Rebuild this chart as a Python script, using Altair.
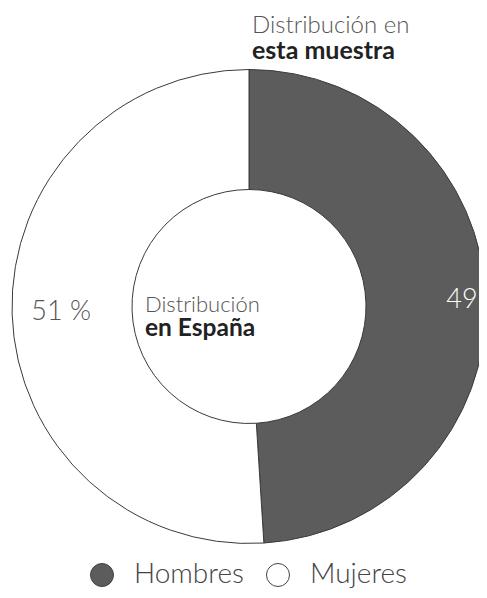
import altair as alt
import pandas as pd

categories = ["Hombres", "Mujeres"]
values = [49, 51]
labels_hombres = ["49", ""]
labels_mujeres = ["", "51 %"]
slice_colors = ["#5c5c5c", "#ffffff"]

df = pd.DataFrame({
    "cat": categories,
    "val": values,
    "ord": [0, 1],
    "lh": labels_hombres,
    "lm": labels_mujeres,
})

FONT = "Lato"
cx, cy = 241, 298.5

base = alt.Chart(df).encode(
    theta=alt.Theta("val:Q", stack=True),
    order=alt.Order("ord:Q"),
    detail="cat:N",
    x=alt.value(cx),
    y=alt.value(cy),
)

arcs = base.mark_arc(outerRadius=237, innerRadius=117, stroke="#3a3a3a", strokeWidth=1).encode(
    color=alt.Color(
        "cat:N",
        scale=alt.Scale(domain=categories, range=slice_colors),
        sort=categories,
        legend=alt.Legend(
            title=None,
            orient="none",
            legendX=80,
            legendY=553,
            direction="horizontal",
            symbolType="circle",
            symbolSize=530,
            symbolStrokeColor="#444444",
            symbolStrokeWidth=1,
            labelFont=FONT,
            labelFontWeight=300,
            labelFontSize=28,
            labelColor="#444444",
            labelOffset=18,
            columnPadding=20,
            padding=0,
        ),
    )
)

text_h = base.mark_text(font=FONT, fontWeight=300, fontSize=27, radius=213, color="#ffffff").encode(
    text="lh:N"
)
text_m = base.mark_text(font=FONT, fontWeight=300, fontSize=27, radius=188, color="#555555").encode(
    text="lm:N"
)

top1 = alt.Chart(pd.DataFrame({"t": ["Distribución en"]})).mark_text(
    font=FONT, fontWeight=300, fontSize=24, align="left", baseline="alphabetic", color="#555555"
).encode(x=alt.value(244), y=alt.value(25), text="t:N")
top2 = alt.Chart(pd.DataFrame({"t": ["esta muestra"]})).mark_text(
    font=FONT, fontWeight="bold", fontSize=25, align="left", baseline="alphabetic", color="#222222"
).encode(x=alt.value(244), y=alt.value(51), text="t:N")
mid1 = alt.Chart(pd.DataFrame({"t": ["Distribución"]})).mark_text(
    font=FONT, fontWeight=300, fontSize=22, align="left", baseline="alphabetic", color="#555555"
).encode(x=alt.value(137), y=alt.value(304), text="t:N")
mid2 = alt.Chart(pd.DataFrame({"t": ["en España"]})).mark_text(
    font=FONT, fontWeight="bold", fontSize=24.5, align="left", baseline="alphabetic", color="#222222"
).encode(x=alt.value(137), y=alt.value(328), text="t:N")

chart = alt.layer(arcs, text_h, text_m, top1, top2, mid1, mid2).properties(
    width=471,
    height=582,
    padding=0,
    autosize=alt.AutoSizeParams(type="none"),
).configure_view(stroke=None)

chart.save("out.html", embed_options={"renderer": "svg", "actions": False})
